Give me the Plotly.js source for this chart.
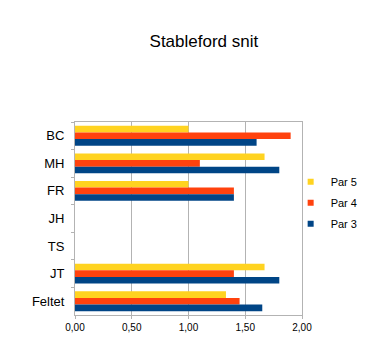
<!DOCTYPE html>
<html>
<head>
<meta charset="utf-8">
<script src="https://cdn.plot.ly/plotly-3.0.1.min.js"></script>
<style>html,body{margin:0;padding:0;background:#fff}</style>
</head>
<body>
<div id="chart" style="width:379px;height:358px"></div>
<script>
const categories = ["BC", "MH", "FR", "JH", "TS", "JT", "Feltet"];
const par5 = [1.00, 1.67, 1.00, null, null, 1.67, 1.33];
const par4 = [1.90, 1.10, 1.40, null, null, 1.40, 1.45];
const par3 = [1.60, 1.80, 1.40, null, null, 1.80, 1.65];
const seriesNames = ["Par 5", "Par 4", "Par 3"];
const seriesColors = ["#FFD320", "#FF420E", "#004586"];
const xTicks = [0, 0.5, 1, 1.5, 2];

const seriesValues = [par5, par4, par3];
const traces = [];
seriesValues.forEach((vals, i) => {
  traces.push({
    type: "bar", orientation: "h",
    x: vals, y: categories,
    name: seriesNames[i],
    marker: {color: seriesColors[i]},
    showlegend: false,
    hoverinfo: "x+y+name"
  });
});
seriesValues.forEach((vals, i) => {
  traces.push({
    type: "scatter", mode: "markers",
    x: [null], y: [null],
    name: seriesNames[i],
    legendgroup: "g" + i,
    marker: {symbol: "square", size: 6, color: seriesColors[i]},
    hoverinfo: "skip"
  });
});

const layout = {
  width: 379, height: 358,
  margin: {l: 74.5, r: 76.7, t: 121.5, b: 42.5, pad: 0},
  paper_bgcolor: "#ffffff", plot_bgcolor: "#ffffff",
  font: {family: "Liberation Sans, Arial, sans-serif", color: "#000000"},
  separators: ", ",
  title: {
    text: "Stableford snit",
    font: {size: 17, color: "#000000", family: "Liberation Sans, Arial, sans-serif"},
    x: 0.538, xref: "container", xanchor: "center",
    y: 0.885, yref: "container", yanchor: "middle"
  },
  barmode: "group", bargap: 0.28, bargroupgap: 0,
  xaxis: {
    range: [0, 2], tickvals: xTicks, tickformat: ".2f",
    showgrid: true, gridcolor: "#b3b3b3", gridwidth: 1,
    showline: true, linecolor: "#b3b3b3", linewidth: 1, mirror: true,
    ticks: "outside", ticklen: 3, tickcolor: "#b3b3b3",
    tickfont: {size: 10, color: "#000000"},
    zeroline: false, fixedrange: true
  },
  yaxis: {
    type: "category", autorange: "reversed",
    showgrid: false,
    showline: true, linecolor: "#b3b3b3", linewidth: 1, mirror: true,
    ticks: "outside", ticklen: 3, tickcolor: "#b3b3b3", tickson: "boundaries",
    ticklabelstandoff: 7,
    tickfont: {size: 13, color: "#000000"},
    zeroline: false, fixedrange: true
  },
  showlegend: true,
  legend: {
    x: 0.95, xanchor: "left", y: 0.765, yanchor: "top",
    bgcolor: "rgba(0,0,0,0)", borderwidth: 0,
    traceorder: "grouped", tracegroupgap: 2,
    font: {size: 11, color: "#000000"}
  }
};

Plotly.newPlot("chart", traces, layout, {displayModeBar: false, staticPlot: true});
</script>
</body>
</html>
